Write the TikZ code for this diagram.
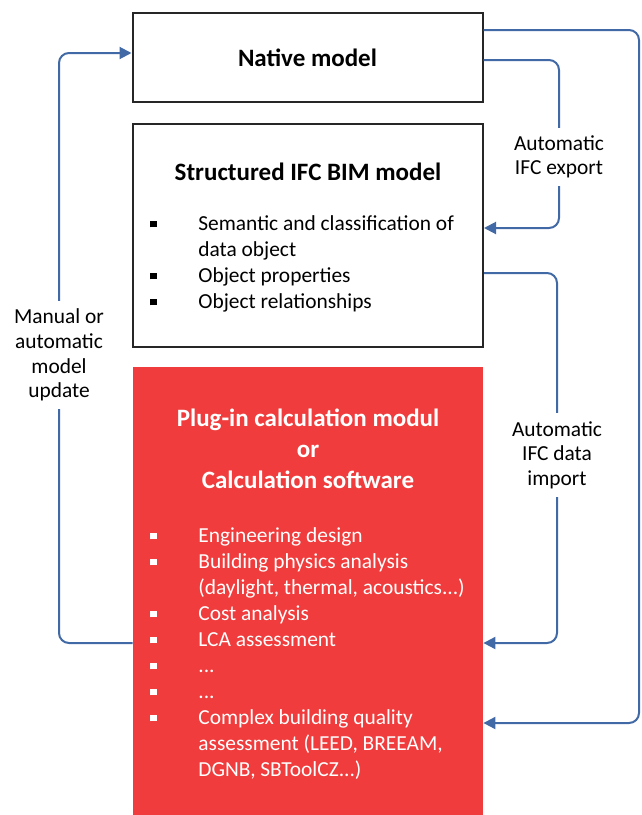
\documentclass[tikz,border=0pt]{standalone}
\usepackage{fontspec}
\setmainfont{Carlito}
\usetikzlibrary{arrows.meta}
\definecolor{flowblue}{RGB}{65,105,165}
\definecolor{calcred}{RGB}{240,60,60}
\newcommand{\sqbullet}{\makebox[24pt][l]{\rule[0.28ex]{0.3em}{0.3em}}}
\tikzset{
  box/.style={draw=black!85,line width=1pt,minimum width=175pt},
  flow/.style={draw=flowblue,line width=1pt,rounded corners=5pt,-{Triangle[length=6pt,width=6pt]}},
  flowlabel/.style={fill=white,align=center,inner sep=4pt,font=\fontsize{10.7}{12.3}\selectfont},
  title/.style={align=center,font=\fontsize{12.5}{15.5}\selectfont\bfseries},
  items/.style={anchor=north west,inner sep=0pt,align=left,font=\fontsize{10.7}{13}\selectfont}
}

\begin{document}
\begin{tikzpicture}[x=0.5pt,y=-0.5pt]
    \useasboundingbox (0,0) rectangle (642,815);
    % boxes
    \node[box,title,minimum height=44.5pt] (native) at (307.5,57.5) {Native model};
    \node[box,minimum height=111.5pt] (ifc) at (308,235.5) {};
    \node[title] (ifctitle) at (308,172) {Structured IFC BIM model};
    \node[items] (ifclist) at (150,215) {\sqbullet Semantic and classification of\\
        \hspace*{24pt}data object\\
        \sqbullet Object properties\\
        \sqbullet Object relationships};
    \node[fill=calcred,minimum width=175pt,minimum height=224pt] (calc) at (308,591) {};
    \node[title,text=white] (calctitle) at (308,449) {Plug-in calculation modul\\or\\Calculation software};
    \node[items,text=white] (calclist) at (150,527) {\sqbullet Engineering design\\
        \sqbullet Building physics analysis\\
        \hspace*{24pt}(daylight, thermal, acoustics...)\\
        \sqbullet Cost analysis\\
        \sqbullet LCA assessment\\
        \sqbullet ...\\
        \sqbullet ...\\
        \sqbullet Complex building quality\\
        \hspace*{24pt}assessment (LEED, BREEAM,\\
        \hspace*{24pt}DGNB, SBToolCZ...)};
    % connectors
    \coordinate (outer) at (639,723);
    \draw[flow] ([yshift=13.75pt]native.east) -| (outer) -- (outer -| calc.east);
    \coordinate (exp) at (559,228);
    \draw[flow] ([yshift=-1.25pt]native.east) -| (exp) -- (exp -| ifc.east);
    \node[flowlabel] (explabel) at (559,157) {Automatic\\IFC export};
    \coordinate (imp) at (557,643);
    \draw[flow] ([yshift=-18.75pt]ifc.east) -| (imp) -- (imp -| calc.east);
    \node[flowlabel] (implabel) at (557,455) {Automatic\\IFC data\\import};
    \coordinate (upd) at (59,53);
    \draw[flow] ([yshift=-26pt]calc.west) -| (upd) -- (upd -| native.west);
    \node[flowlabel] (updlabel) at (59,355) {Manual or\\automatic\\model\\update};
\end{tikzpicture}
\end{document}
